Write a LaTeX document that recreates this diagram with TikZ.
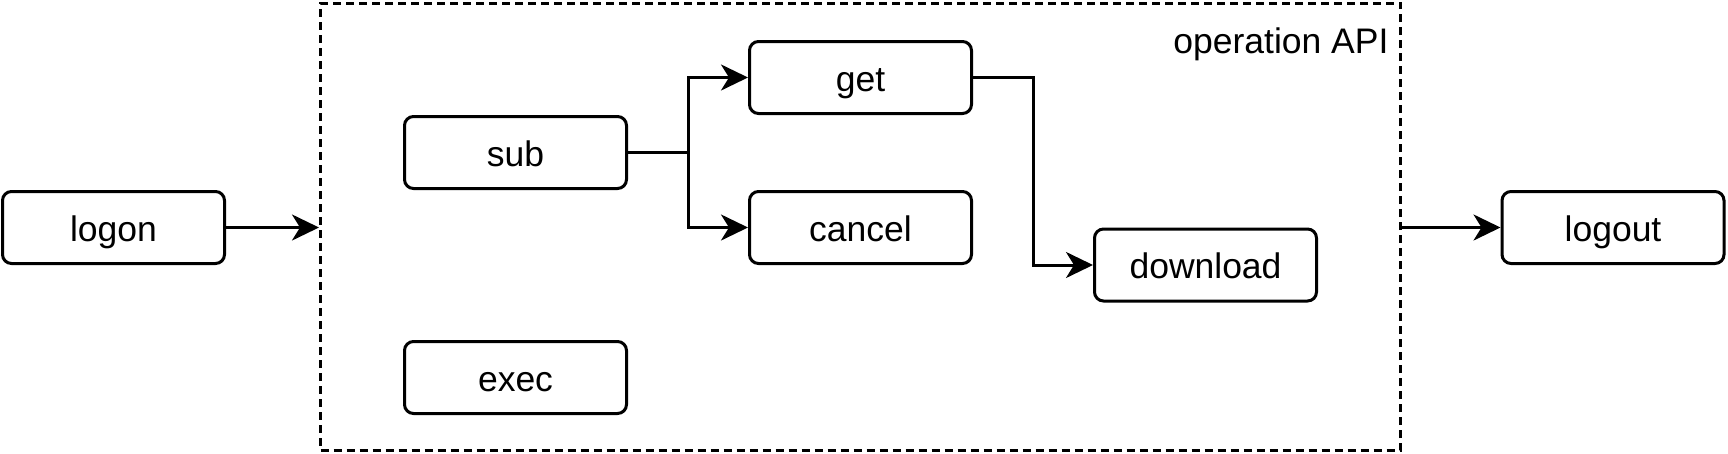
\documentclass[tikz,border=0pt]{standalone}
\usepackage{fontspec}
\setmainfont{Liberation Sans}
\usepackage{tikz}
\usetikzlibrary{arrows.meta,positioning}
\tikzstyle{opbox} = [draw=black, fill=white, line width=3pt,
    rectangle, rounded corners=9pt, minimum width=222pt, minimum height=72pt,
    inner sep=0pt, text height=30pt, text depth=3pt, font=\fontsize{35.5}{42}\selectfont]
\tikzstyle{apiframe} = [draw=black, line width=3pt, dash pattern=on 8pt off 5pt,
    rectangle, minimum width=1080pt, minimum height=447pt, inner sep=0pt]
\tikzstyle{flow} = [line width=3pt, -{Stealth[length=27pt, width=26pt, inset=8pt]}]

\begin{document}
\begin{tikzpicture}[x=1pt, y=-1pt]
                \useasboundingbox (0,0) rectangle (1728,453);
                \node [apiframe] (api) at (860.5,226.5) {};
                \node [anchor=base east, font=\fontsize{35.5}{42}\selectfont] (apititle) at (1392,53) {operation API};
                \node [opbox] (logon) at (113.5,227.5) {logon};
                \node [opbox] (sub) at (515.5,152.5) {sub};
                \node [opbox] (get) at (860.5,77.5) {get};
                \node [opbox] (cancel) at (860.5,227.5) {cancel};
                \node [opbox] (download) at (1205.5,265) {download};
                \node [opbox] (exec) at (515.5,377.5) {exec};
                \node [opbox] (logout) at (1613,227.5) {logout};
                \draw [flow] (logon.east) -- (api.west |- logon.east);
                \draw [flow] (sub.east) -- ++(60,0) |- (get.west);
                \draw [flow] (sub.east) -- ++(60,0) |- (cancel.west);
                \draw [flow] (get.east) -- ++(60,0) |- (download.west);
                \draw [flow] (api.east |- logout.west) -- (logout.west);
            \end{tikzpicture}
\end{document}
